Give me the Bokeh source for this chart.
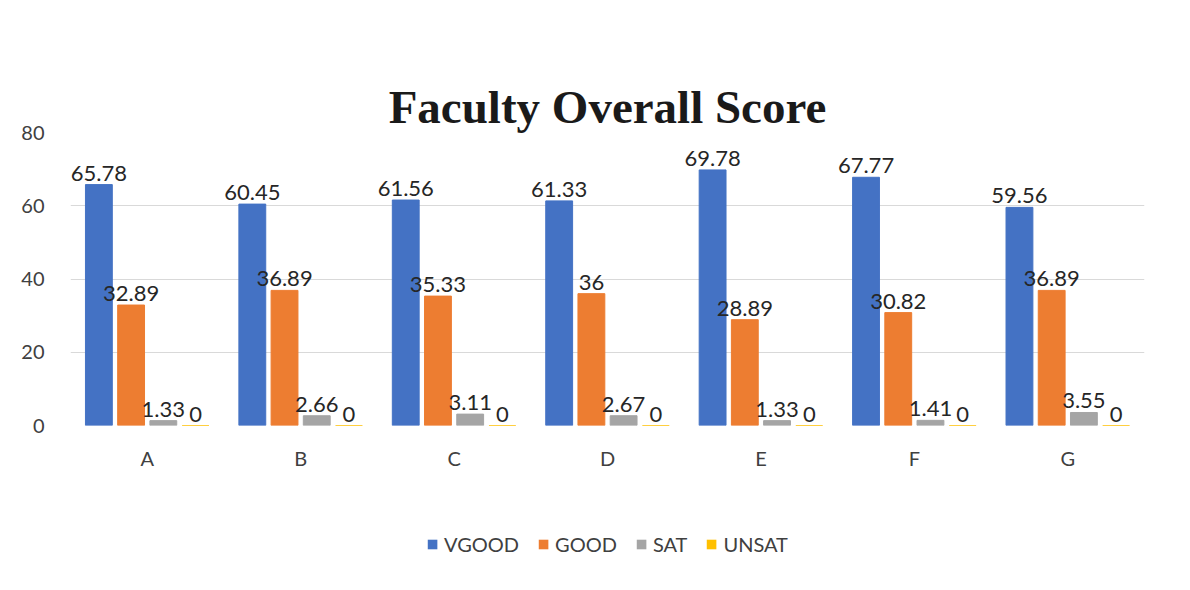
from bokeh.plotting import figure
from bokeh.models import ColumnDataSource, LabelSet, Legend, LegendItem, FixedTicker
from bokeh.core.properties import value
from bokeh.transform import dodge
from bokeh.layouts import column
from bokeh.embed import file_html
from bokeh.resources import INLINE

categories = ["A", "B", "C", "D", "E", "F", "G"]
series_names = ["VGOOD", "GOOD", "SAT", "UNSAT"]
vgood = [65.78, 60.45, 61.56, 61.33, 69.78, 67.77, 59.56]
good = [32.89, 36.89, 35.33, 36, 28.89, 30.82, 36.89]
sat = [1.33, 2.66, 3.11, 2.67, 1.33, 1.41, 3.55]
unsat = [0, 0, 0, 0, 0, 0, 0]
y_ticks = [0, 20, 40, 60, 80]

colors = ["#4472C4", "#ED7D31", "#A5A5A5", "#FFC000"]
offsets = [-0.315, -0.105, 0.105, 0.315]
bar_w = 0.175

def fmt(v):
    return f"{v:g}"

font = "Lato"

p = figure(x_range=categories, y_range=(0, 80), width=1170, height=472,
           output_backend="svg", toolbar_location=None,
           title="Faculty Overall Score")
p.title.text_font = "Liberation Serif"
p.title.text_font_size = "47px"
p.title.text_font_style = "bold"
p.title.align = "center"
p.title.text_color = "#1a1a1a"
p.title.standoff = 0

for name, vals, col, off in zip(series_names, [vgood, good, sat, unsat], colors, offsets):
    src = ColumnDataSource(dict(cat=categories, val=vals, lab=[fmt(v) for v in vals]))
    p.vbar(x=dodge("cat", off, range=p.x_range), top="val", width=bar_w,
           source=src, fill_color=col, line_color=col)
    lbl = LabelSet(x=dodge("cat", off, range=p.x_range), y="val", text="lab",
                   source=src, text_align="center", text_baseline="bottom",
                   y_offset=4, text_font=value(font), text_font_size="22px",
                   text_color="#262626")
    p.add_layout(lbl)

p.yaxis.ticker = FixedTicker(ticks=y_ticks)
p.xaxis.axis_line_color = None
p.yaxis.axis_line_color = None
p.xaxis.major_tick_line_color = None
p.yaxis.major_tick_line_color = None
p.xaxis.minor_tick_line_color = None
p.yaxis.minor_tick_line_color = None
p.xaxis.major_label_text_font = font
p.yaxis.major_label_text_font = font
p.xaxis.major_label_text_font_size = "20px"
p.yaxis.major_label_text_font_size = "20px"
p.xaxis.major_label_text_color = "#404040"
p.yaxis.major_label_text_color = "#404040"
p.yaxis.major_label_standoff = 20
p.xaxis.major_label_standoff = 14
p.xgrid.grid_line_color = None
p.ygrid.grid_line_color = "#D9D9D9"
p.outline_line_color = None
p.min_border_left = 70
p.min_border_right = 26
p.min_border_top = 132
p.min_border_bottom = 40

# legend strip
lg = figure(width=1170, height=90, x_range=(0, 1), y_range=(0, 1),
            output_backend="svg", toolbar_location=None)
items = []
for name, col in zip(series_names, colors):
    r = lg.vbar(x=[0.5], bottom=[0.5], top=[0.5], width=0.0,
                fill_color=col, line_alpha=0)
    items.append(LegendItem(label=name, renderers=[r]))
legend = Legend(items=items, orientation="horizontal", location="bottom_center",
                label_text_font=font, label_text_font_size="20px",
                label_text_color="#404040", glyph_width=12, glyph_height=12,
                spacing=18, label_standoff=6, border_line_color=None,
                background_fill_alpha=0, margin=6)
lg.add_layout(legend)
lg.axis.visible = False
lg.grid.visible = False
lg.outline_line_color = None
lg.min_border = 0

open("out.html", "w").write(file_html(column(p, lg), INLINE))
